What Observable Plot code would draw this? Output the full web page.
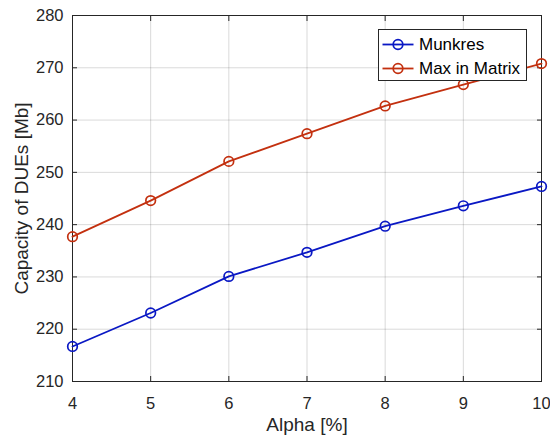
<!DOCTYPE html>
<html>
<head>
<meta charset="utf-8">
<script src="https://cdn.jsdelivr.net/npm/d3@7"></script>
<script src="https://cdn.jsdelivr.net/npm/@observablehq/plot@0.6"></script>
<style>
  body { margin: 0; background: #fff; }
  #chart { position: relative; width: 550px; height: 440px; }
  #chart svg { font-family: "Liberation Sans", Arial, sans-serif; }
</style>
</head>
<body>
<div id="chart"></div>
<script>
// Capacity of DUEs versus Alpha for two assignment methods
const alpha = [4, 5, 6, 7, 8, 9, 10];
const munkres = [216.7, 223.1, 230.1, 234.7, 239.7, 243.6, 247.3];
const maxInMatrix = [237.7, 244.6, 252.1, 257.4, 262.7, 266.8, 270.8];
const seriesNames = ["Munkres", "Max in Matrix"];
const seriesColors = ["#0a18c4", "#c3300f"];
const xTicks = [4, 5, 6, 7, 8, 9, 10];
const yTicks = [210, 220, 230, 240, 250, 260, 270, 280];

const rows = [
  ...alpha.map((a, i) => ({alpha: a, value: munkres[i], series: seriesNames[0]})),
  ...alpha.map((a, i) => ({alpha: a, value: maxInMatrix[i], series: seriesNames[1]}))
];

const axisColor = "#262626";
const textColor = "#262626";

const plot = Plot.plot({
  width: 550,
  height: 440,
  marginLeft: 72,
  marginRight: 9,
  marginTop: 15,
  marginBottom: 59,
  style: {fontSize: "16.5px", color: textColor, background: "#fff"},
  x: {domain: [4, 10]},
  y: {domain: [210, 280]},
  color: {domain: seriesNames, range: seriesColors},
  marks: [
    Plot.gridX(xTicks, {stroke: "#000", strokeOpacity: 0.15}),
    Plot.gridY(yTicks, {stroke: "#000", strokeOpacity: 0.15}),
    Plot.frame({stroke: axisColor, strokeWidth: 1}),
    Plot.axisX({ticks: xTicks, tickSize: -5, tickPadding: 21, tickFormat: d => d, label: null, stroke: axisColor, fontSize: 16.5}),
    Plot.axisY({ticks: yTicks, tickSize: -5, tickPadding: 14, tickFormat: d => d, label: null, stroke: axisColor, fontSize: 16.5}),
    Plot.axisX({ticks: xTicks, anchor: "top", tickSize: -5, tickFormat: () => "", label: null, stroke: axisColor}),
    Plot.axisY({ticks: yTicks, anchor: "right", tickSize: -5, tickFormat: () => "", label: null, stroke: axisColor}),
    Plot.line(rows, {x: "alpha", y: "value", z: "series", stroke: "series", strokeWidth: 1.8}),
    Plot.dot(rows, {x: "alpha", y: "value", stroke: "series", r: 4.8, strokeWidth: 1.7, fill: "none"}),
    Plot.text(["Alpha [%]"], {frameAnchor: "bottom", textAnchor: "middle", lineAnchor: "middle", dy: 43.5, fontSize: 19, fill: textColor}),
    Plot.text(["Capacity of DUEs [Mb]"], {frameAnchor: "left", textAnchor: "middle", lineAnchor: "middle", dx: -50.5, rotate: -90, fontSize: 19, fill: textColor})
  ]
});

document.getElementById("chart").appendChild(plot);

// Legend box in the upper right of the axes
const svg = d3.select(plot);
const lg = svg.append("g").attr("transform", "translate(378.5,29.5)");
lg.append("rect").attr("width", 148).attr("height", 51)
  .attr("fill", "#fff").attr("stroke", axisColor).attr("stroke-width", 1);
seriesNames.forEach((name, i) => {
  const cy = 15 + i * 24;
  const row = lg.append("g").attr("transform", `translate(0,${cy})`);
  row.append("line").attr("x1", 4).attr("x2", 35).attr("y1", 0).attr("y2", 0)
    .attr("stroke", seriesColors[i]).attr("stroke-width", 1.8);
  row.append("circle").attr("cx", 19.5).attr("cy", 0).attr("r", 4.8)
    .attr("fill", "none").attr("stroke", seriesColors[i]).attr("stroke-width", 1.7);
  row.append("text").attr("x", 40.5).attr("y", 0).attr("dy", "0.35em")
    .attr("text-anchor", "start")
    .attr("font-size", 17).attr("fill", "#000").text(name);
});
</script>
</body>
</html>
